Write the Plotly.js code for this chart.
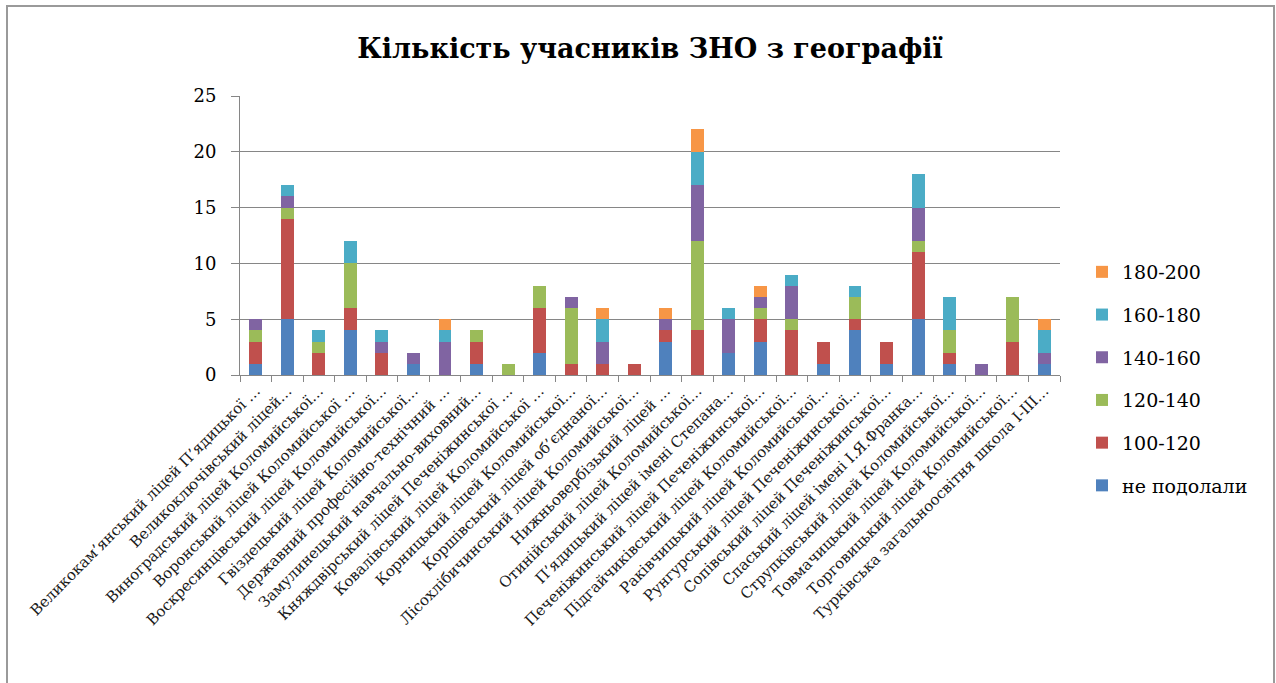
<!DOCTYPE html>
<html>
<head>
<meta charset="utf-8">
<script src="https://cdn.plot.ly/plotly-3.0.1.min.js"></script>
<style>
html,body{margin:0;padding:0;background:#fff;}
#chart{position:absolute;left:0;top:0;width:1276px;height:683px;}
</style>
</head>
<body>
<div id="chart"></div>
<script>
const categories = [
  "Великокам’янський ліцей П’ядицької …",
  "Великоключівський ліцей…",
  "Виноградський ліцей Коломийської…",
  "Воронський ліцей Коломийської …",
  "Воскресинцівський ліцей Коломийської…",
  "Гвіздецький ліцей Коломийської…",
  "Державний професійно-технічний …",
  "Замулинецький навчально-виховний…",
  "Княждвірський ліцей Печеніжинської …",
  "Ковалівський ліцей Коломийської …",
  "Корницький ліцей Коломийської…",
  "Коршівський ліцей об’єднаної…",
  "Лісохлібичинський ліцей Коломийської…",
  "Нижньовербізький ліцей …",
  "Отинійський ліцей Коломийської…",
  "П’ядицький ліцей імені Степана…",
  "Печеніжинський ліцей Печеніжинської…",
  "Підгайчиківський ліцей Коломийської…",
  "Раківчицький ліцей Коломийської…",
  "Рунгурський ліцей Печеніжинської…",
  "Сопівський ліцей Печеніжинської…",
  "Спаський ліцей імені І.Я.Франка…",
  "Струпківський ліцей Коломийської…",
  "Товмачицький ліцей Коломийської…",
  "Торговицький ліцей Коломийської…",
  "Турківська загальноосвітня школа І-ІІІ…"
];
const notPassed = [1,5,0,4,0,1,0,1,0,2,0,0,0,3,0,2,3,0,1,4,1,5,1,0,0,1];
const s100_120  = [2,9,2,2,2,0,0,2,0,4,1,1,1,1,4,0,2,4,2,1,2,6,1,0,3,0];
const s120_140  = [1,1,1,4,0,0,0,1,1,2,5,0,0,0,8,0,1,1,0,2,0,1,2,0,4,0];
const s140_160  = [1,1,0,0,1,1,3,0,0,0,1,2,0,1,5,3,1,3,0,0,0,3,0,1,0,1];
const s160_180  = [0,1,1,2,1,0,1,0,0,0,0,2,0,0,3,1,0,1,0,1,0,3,3,0,0,2];
const s180_200  = [0,0,0,0,0,0,1,0,0,0,0,1,0,1,2,0,1,0,0,0,0,0,0,0,0,1];
const seriesNames = ["не подолали","100-120","120-140","140-160","160-180","180-200"];
const seriesColors = ["#4F81BD","#C0504D","#9BBB59","#8064A2","#4BACC6","#F79646"];

const SERIF = 'DejaVu Serif';

const seriesValues = [notPassed, s100_120, s120_140, s140_160, s160_180, s180_200];
const traces = seriesValues.map((vals, i) => ({
  type: 'bar',
  x: categories,
  y: vals,
  name: seriesNames[i],
  legendgroup: 'g' + i,
  legendrank: 1000 - i * 10,
  marker: {color: seriesColors[i], line: {width: 0}},
  hoverinfo: 'x+y+name'
}));

const L = 240, R = 1060, T = 96, B = 375, W = 1276, H = 683;
const pw = R - L, ph = B - T;
const px = v => (v - L) / pw;
const py = v => (B - v) / ph;

const layout = {
  width: W, height: H,
  margin: {l: L, r: W - R, t: T, b: H - B, pad: 0},
  paper_bgcolor: '#ffffff',
  plot_bgcolor: '#ffffff',
  barmode: 'stack',
  bargap: 0.59,
  title: {
    text: '<b>Кількість учасників ЗНО з географії</b>',
    font: {family: SERIF, size: 27, color: '#000'},
    x: 0.5, xref: 'paper', xanchor: 'center',
    y: 1 - 49 / H, yanchor: 'middle'
  },
  xaxis: {
    type: 'category',
    tickangle: -45,
    tickson: 'boundaries',
    ticks: 'outside',
    ticklen: 6,
    tickcolor: '#868686',
    showline: true,
    linecolor: '#868686',
    linewidth: 1,
    showgrid: false,
    tickfont: {family: SERIF, size: 15, color: '#1a1a1a'},
    automargin: false
  },
  yaxis: {
    range: [0, 25],
    dtick: 5,
    tick0: 0,
    ticks: 'outside',
    ticklen: 8,
    tickcolor: '#868686',
    ticklabelstandoff: 11,
    showline: true,
    linecolor: '#868686',
    linewidth: 1,
    showgrid: true,
    gridcolor: '#868686',
    gridwidth: 1,
    zeroline: false,
    tickfont: {family: SERIF, size: 18, color: '#000'},
    automargin: false
  },
  legend: {
    x: px(1082), xanchor: 'left',
    y: py(253), yanchor: 'top',
    traceorder: 'grouped',
    tracegroupgap: 15,
    font: {family: SERIF, size: 19, color: '#000'},
    bgcolor: 'rgba(0,0,0,0)',
    itemwidth: 30
  },
  shapes: [{
    type: 'rect', xref: 'paper', yref: 'paper',
    x0: px(7), x1: px(1274), y0: py(700), y1: py(6),
    line: {color: '#9a9a9a', width: 2},
    fillcolor: 'rgba(0,0,0,0)',
    layer: 'below'
  }],
  showlegend: true
};

Plotly.newPlot('chart', traces, layout, {displayModeBar: false, responsive: false});
</script>
</body>
</html>
